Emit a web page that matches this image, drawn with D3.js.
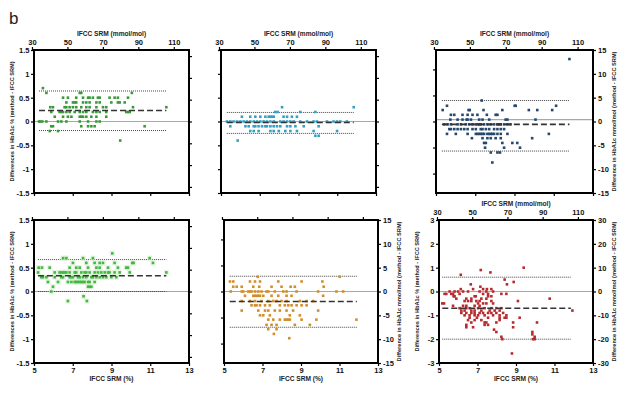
<!DOCTYPE html>
<html><head><meta charset="utf-8">
<script src="https://cdn.jsdelivr.net/npm/d3@7"></script>
<style>
html,body{margin:0;padding:0;background:#fff;}
svg{display:block;font-family:"Liberation Sans",Arial,sans-serif;}
</style></head>
<body><svg id="c" width="627" height="393"></svg>
<script>
// ---------- DATA (x = IFCC SRM %, y = difference; rows: [y, [x...]]) ----------
const pctTicksX = [5, 7, 9, 11, 13];
const mmolTicksX = [30, 50, 70, 90, 110];
const pctTicks15 = [-1.5, -1, -0.5, 0, 0.5, 1, 1.5];
const pctTicks1 = [-1, -0.5, 0, 0.5, 1];
const pctTicks3 = [-3, -2, -1, 0, 1, 2, 3];
const mmolTicks15 = [-15, -10, -5, 0, 5, 10, 15];
const mmolTicks30 = [-30, -20, -10, 0, 10, 20, 30];

const p1Rows = [
  [0.7, [5.46]],
  [0.6, [5.64, 7.36, 7.44, 10.05]],
  [0.5, [6.50, 6.75, 7.18, 7.53, 7.79, 7.87, 8.04, 8.30, 8.39, 8.90, 9.16, 9.33, 9.85]],
  [0.4, [6.67, 7.01, 7.10, 7.18, 7.53, 7.70, 7.87, 8.22, 8.39, 8.99, 9.33, 9.42, 9.68]],
  [0.3, [5.84, 5.98, 6.58, 6.67, 6.84, 7.01, 7.18, 7.44, 7.70, 7.87, 8.22, 8.56, 8.73, 10.11, 11.83]],
  [0.2, [5.89, 6.32, 6.41, 6.50, 6.67, 6.84, 7.10, 7.36, 7.53, 7.70, 8.04, 8.22, 8.39, 8.73, 9.76, 9.85, 9.94]],
  [0.1, [6.07, 6.50, 6.75, 6.93, 7.36, 7.44, 7.53, 7.70, 7.96, 8.22, 8.73]],
  [0.0, [5.26, 5.33, 5.43, 5.64, 6.24, 6.41, 6.67, 7.36, 7.79, 8.22, 8.39]],
  [-0.1, [5.89, 5.98, 7.44, 7.79, 7.96, 8.13, 10.71]],
  [-0.2, [5.81, 6.24]],
  [-0.4, [9.45]]
];
const p1Lines = {upper: 0.64, mean: 0.23, lower: -0.19, zero: 0, from: 5.26, to: 11.83};

const p2Rows = [
  [0.3, [8.15, 11.85]],
  [0.2, [7.80, 7.92, 9.09, 9.87]],
  [0.1, [6.08, 6.51, 6.77, 7.03, 7.29, 7.46, 7.55, 7.63, 7.72, 8.23, 8.41, 8.66, 8.92]],
  [0.0, [5.31, 5.48, 5.65, 5.83, 6.00, 6.17, 6.34, 6.51, 6.69, 6.86, 7.03, 7.20, 7.37, 7.55, 7.72, 8.06, 8.23, 8.41, 8.58, 8.75, 9.09, 9.44, 9.78, 9.95, 10.47, 10.81, 10.99, 11.16, 11.50]],
  [-0.1, [5.48, 6.26, 6.43, 6.69, 6.77, 6.94, 7.12, 7.29, 7.37, 7.55, 7.72, 7.89, 8.06, 8.41, 8.58, 8.84, 9.27, 10.04]],
  [-0.2, [6.51, 6.69, 6.94, 7.55, 7.72, 7.98, 8.32, 8.58, 8.92, 9.78, 10.99]],
  [-0.3, [9.87, 10.04]],
  [-0.4, [5.86]]
];
const p2Lines = {upper: 0.19, mean: -0.02, lower: -0.25, zero: 0, from: 5.3, to: 11.85};

const p3Rows = [
  [13.1, [11.80]],
  [4.4, [7.33]],
  [3.3, [5.56, 9.01, 9.06, 11.12]],
  [2.4, [5.34, 6.66, 6.72, 7.42, 8.38, 9.73, 10.16, 10.92]],
  [1.4, [5.76, 5.93, 6.35, 6.61, 6.86, 7.11, 7.59, 8.04, 8.13]],
  [0.4, [5.73, 6.10, 6.35, 6.56, 6.61, 6.78, 7.20, 7.37, 7.71, 8.55, 8.64, 10.07]],
  [-0.6, [5.42, 5.59, 5.76, 6.10, 6.27, 6.52, 6.69, 6.86, 7.03, 7.11, 7.20, 7.28, 7.45, 7.62, 7.79, 7.96, 8.13, 8.21, 8.30, 8.47, 8.64, 8.80]],
  [-1.6, [5.68, 5.76, 5.93, 6.10, 6.27, 6.44, 6.61, 6.86, 7.03, 7.28, 7.37, 7.54, 7.71, 7.96, 8.13, 8.30, 8.47]],
  [-2.6, [5.56, 6.01, 6.61, 7.03, 7.11, 7.20, 7.28, 7.37, 7.45, 7.62, 7.71, 7.79, 7.87, 7.96, 8.13, 8.30, 8.64, 10.75]],
  [-3.5, [6.83, 7.37, 7.62, 7.79, 8.04, 8.30, 9.90]],
  [-4.5, [7.45, 7.54, 8.38, 8.89, 9.14]],
  [-5.5, [7.50, 8.47, 9.28]],
  [-6.5, [7.79, 8.13, 8.26]],
  [-8.6, [7.87]]
];
const p3Lines = {upper: 4.4, mean: -0.6, lower: -6.2, zero: 0.4, from: 5.3, to: 11.8};

const p4Rows = [
  [0.8, [9.04]],
  [0.7, [6.50, 6.67, 7.53, 8.04, 10.97]],
  [0.6, [7.01, 7.70, 8.13, 8.39, 8.56, 9.16, 10.07, 10.14, 11.14]],
  [0.5, [5.24, 5.41, 5.81, 6.84, 7.18, 7.36, 7.79, 8.22, 8.39, 8.82, 9.33, 9.76, 9.85]],
  [0.4, [5.21, 6.07, 6.32, 6.41, 6.50, 6.58, 6.67, 6.84, 7.10, 7.18, 7.44, 7.61, 7.70, 7.87, 8.13, 8.30, 8.47, 8.65, 8.82, 8.90, 9.16, 9.42, 9.94, 11.83]],
  [0.3, [5.38, 5.46, 5.64, 6.07, 6.41, 6.50, 6.84, 6.93, 7.01, 7.27, 7.36, 7.53, 7.70, 7.96, 8.04, 8.22, 8.39, 8.56, 8.73, 8.99, 9.25]],
  [0.2, [5.72, 6.24, 6.75, 6.93, 7.10, 7.18, 7.27, 7.36, 7.44, 7.53, 7.61, 7.79, 7.87, 8.13]],
  [0.1, [5.98, 7.79, 7.87, 7.96]],
  [0.0, [5.89]],
  [-0.1, [7.56]],
  [-0.2, [6.75, 7.73]]
];
const p4Lines = {upper: 0.67, mean: 0.33, lower: 0.0, zero: 0, from: 5.2, to: 11.83};

const p5Rows = [
  [3.1, [6.75, 11.01]],
  [2.1, [5.31, 5.48, 6.35, 6.61, 6.87, 7.82, 9.03, 10.11]],
  [1.0, [5.48, 5.66, 5.92, 6.52, 6.83, 7.47, 7.99, 8.46, 8.68, 10.18]],
  [0.0, [5.35, 5.92, 6.00, 6.26, 6.35, 6.43, 6.61, 6.78, 6.95, 7.21, 7.30, 7.64, 8.08, 8.25, 8.77, 9.89, 10.84, 11.19]],
  [-0.9, [6.09, 6.52, 6.61, 6.69, 6.78, 6.87, 7.04, 7.47, 7.82, 8.25, 8.51, 10.15]],
  [-2.0, [5.92, 6.35, 6.61, 6.95, 7.30, 7.56, 7.73, 7.99, 8.25, 8.94, 9.29, 9.63]],
  [-2.9, [6.43, 6.61, 6.69, 6.87, 7.13, 7.38, 7.90, 8.16, 8.34, 8.51, 8.77, 9.03, 9.29]],
  [-4.0, [5.92, 6.78, 7.13, 7.30, 7.64, 7.90, 8.25, 8.59, 9.89]],
  [-5.0, [6.87, 7.04, 7.38, 8.42, 8.94]],
  [-5.9, [7.30, 7.56, 7.90, 8.16, 8.25, 8.34, 8.42, 9.03, 9.80, 11.88]],
  [-7.0, [7.21, 7.47, 7.73, 8.68, 9.46]],
  [-7.9, [7.30, 7.73]],
  [-8.9, [7.59]],
  [-9.8, [8.39]]
];
const p5Lines = {upper: 3.2, mean: -2.1, lower: -7.5, zero: 0, from: 5.3, to: 11.9};

const p6Rows = [
  [1.0, [9.40]], [0.9, [7.17]], [0.8, [7.67]], [0.7, [6.13]], [0.5, [8.41]], [0.4, [8.88]],
  [0.3, [6.65, 8.53]], [0.2, [7.15]],
  [0.1, [6.13, 6.77, 7.29, 7.49, 7.72]],
  [0.0, [5.55, 5.81, 5.99, 6.25, 6.51, 7.11, 7.46, 7.81]],
  [-0.1, [5.29, 5.38, 5.64, 5.73, 6.07, 7.29, 7.55, 8.24, 8.50]],
  [-0.2, [5.76, 5.81, 6.85, 6.91, 7.55, 7.72]],
  [-0.3, [5.90, 6.42, 6.68, 7.20, 7.46, 10.75]],
  [-0.4, [6.33, 6.51, 6.68, 6.94, 7.11, 7.72, 9.10]],
  [-0.5, [5.17, 5.26, 7.03, 7.29, 7.46, 7.81]],
  [-0.6, [5.73, 6.25, 6.42, 6.85, 7.11]],
  [-0.7, [6.07, 6.42, 6.59, 7.03, 7.37, 7.72, 7.98, 8.24]],
  [-0.8, [6.16, 6.33, 6.68, 6.85, 7.20, 7.63, 7.89, 8.15, 11.93]],
  [-0.9, [6.16, 6.42, 6.68, 6.85, 7.11, 7.29, 7.55, 7.72, 7.98, 8.33]],
  [-1.0, [6.33, 6.59, 6.85, 7.03, 7.37, 7.81, 8.15, 8.50]],
  [-1.1, [6.59, 6.97, 7.55, 8.15, 8.41, 8.50, 9.19]],
  [-1.2, [6.51, 6.85, 7.20, 8.15]],
  [-1.3, [6.68, 7.37, 7.46, 7.98, 8.85, 10.09]],
  [-1.4, [6.42, 7.37, 7.55]],
  [-1.5, [6.42, 6.77, 8.85]],
  [-1.6, [7.86]], [-1.7, [7.98, 9.85]], [-1.8, [9.85]], [-1.9, [8.24, 9.97]],
  [-2.0, [8.29, 9.88, 9.97]],
  [-2.6, [8.79]]
];
const p6Lines = {upper: 0.6, mean: -0.7, lower: -2.0, zero: 0, from: 5.17, to: 11.85};

const topTitle = "IFCC SRM (mmol/mol)";
const bottomTitle = "IFCC SRM (%)";
const leftTitle = "Differences in HbA1c % (method - IFCC SRM)";
const rightTitle = "Difference in HbA1c mmol/mol (method - IFCC SRM)";

// ---------- LAYOUT ----------
const svg = d3.select("#c");
const toMmol = p => (p - 2.15) * 10.929;

const panels = [
  {rows: p1Rows, lines: p1Lines, color: "#3a9a3a", x: 34, y: 50, w: 155, h: 143, lDom: [-1.5, 1.5], rDom: [-16.4, 16.4], unit: "L",
   lT: pctTicks15, rT: mmolTicks15, lab: {top: 1, bottom: 0, left: 1, right: 0}, tit: {top: 1, bottom: 0, left: 1, right: 0}},
  {rows: p2Rows, lines: p2Lines, color: "#35a0c6", x: 221, y: 50, w: 155, h: 143, lDom: [-1.5, 1.5], rDom: [-16.4, 16.4], unit: "L",
   lT: pctTicks15, rT: mmolTicks15, lab: {top: 1, bottom: 0, left: 0, right: 0}, tit: {top: 1, bottom: 0, left: 0, right: 0}},
  {rows: p3Rows, lines: p3Lines, color: "#25486e", x: 436, y: 50, w: 157, h: 143, lDom: [-1.373, 1.373], rDom: [-15, 15], unit: "R",
   lT: pctTicks1, rT: mmolTicks15, lab: {top: 1, bottom: 0, left: 0, right: 1}, tit: {top: 1, bottom: 0, left: 0, right: 1}},
  {rows: p4Rows, lines: p4Lines, color: "#43b843", x: 34, y: 220, w: 155, h: 143, lDom: [-1.5, 1.5], rDom: [-16.4, 16.4], unit: "L",
   lT: pctTicks15, rT: mmolTicks15, lab: {top: 0, bottom: 1, left: 1, right: 0}, tit: {top: 0, bottom: 1, left: 1, right: 0}, halo: "#d6ecd0"},
  {rows: p5Rows, lines: p5Lines, color: "#d38e2c", x: 224, y: 220, w: 154, h: 143, lDom: [-1.373, 1.373], rDom: [-15, 15], unit: "R",
   lT: pctTicks1, rT: mmolTicks15, lab: {top: 0, bottom: 1, left: 0, right: 1}, tit: {top: 0, bottom: 1, left: 0, right: 1}},
  {rows: p6Rows, lines: p6Lines, color: "#b92a2e", x: 439, y: 220, w: 154, h: 143, lDom: [-3, 3], rDom: [-30, 30], unit: "L",
   lT: pctTicks3, rT: mmolTicks30, lab: {top: 1, bottom: 1, left: 1, right: 1}, tit: {top: 1, bottom: 1, left: 1, right: 1}}
];

svg.append("text").attr("x", 9).attr("y", 24).attr("font-size", 17).attr("fill", "#222").text("b");

const fmt = d => String(d);

panels.forEach(p => {
  const g = svg.append("g");
  const xs = d3.scaleLinear().domain([5, 13]).range([p.x, p.x + p.w]);
  const xm = d3.scaleLinear().domain([toMmol(5), toMmol(13)]).range([p.x, p.x + p.w]);
  const yl = d3.scaleLinear().domain(p.lDom).range([p.y + p.h, p.y]);
  const yr = d3.scaleLinear().domain(p.rDom).range([p.y + p.h, p.y]);
  const yv = p.unit === "L" ? yl : yr;

  // reference lines
  const L = p.lines;
  g.append("line").attr("x1", p.x).attr("x2", p.x + p.w).attr("y1", yv(L.zero)).attr("y2", yv(L.zero))
    .attr("stroke", "#a8a8a8").attr("stroke-width", 1.1);
  [L.upper, L.lower].forEach(v => {
    g.append("line").attr("x1", xs(L.from)).attr("x2", xs(L.to)).attr("y1", yv(v)).attr("y2", yv(v))
      .attr("stroke", "#444").attr("stroke-width", 1).attr("stroke-dasharray", "1,1");
  });

  // points
  const pts = p.rows.flatMap(([yy, xsArr]) => xsArr.map(xx => [xx, yy]));
  if (p.halo) {
    g.selectAll(null).data(pts).enter().append("rect")
      .attr("x", d => xs(d[0]) - 2.6).attr("y", d => yv(d[1]) - 2.6).attr("width", 5.2).attr("height", 5.2)
      .attr("fill", p.halo).attr("opacity", 0.6);
  }
  g.selectAll(null).data(pts).enter().append("rect")
    .attr("x", d => xs(d[0]) - 1.3).attr("y", d => yv(d[1]) - 1.3).attr("width", 2.6).attr("height", 2.6)
    .attr("fill", p.color);

  // mean line
  g.append("line").attr("x1", xs(L.from)).attr("x2", xs(L.to)).attr("y1", yv(L.mean)).attr("y2", yv(L.mean))
    .attr("stroke", "#333").attr("stroke-width", 1.6).attr("stroke-dasharray", "6,3");

  // axes
  const styleAxis = (sel, show) => {
    sel.select(".domain").remove();
    sel.selectAll(".tick line").attr("stroke", "#000").attr("stroke-width", 1.2);
    sel.selectAll(".tick text").attr("font-size", 7.5).attr("font-weight", "bold").attr("fill", "#111");
    if (!show) sel.selectAll(".tick text").remove();
  };
  const top = g.append("g").attr("transform", `translate(0,${p.y})`)
    .call(d3.axisTop(xm).tickValues(mmolTicksX).tickFormat(fmt).tickSize(3).tickPadding(2));
  styleAxis(top, p.lab.top);
  const bot = g.append("g").attr("transform", `translate(0,${p.y + p.h})`)
    .call(d3.axisBottom(xs).tickValues(pctTicksX).tickFormat(fmt).tickSize(3).tickPadding(2));
  styleAxis(bot, p.lab.bottom);
  const lft = g.append("g").attr("transform", `translate(${p.x},0)`)
    .call(d3.axisLeft(yl).tickValues(p.lT).tickFormat(fmt).tickSize(3).tickPadding(1.5));
  styleAxis(lft, p.lab.left);
  const rgt = g.append("g").attr("transform", `translate(${p.x + p.w},0)`)
    .call(d3.axisRight(yr).tickValues(p.rT).tickFormat(fmt).tickSize(3).tickPadding(2));
  styleAxis(rgt, p.lab.right);

  // frame
  g.append("rect").attr("x", p.x).attr("y", p.y).attr("width", p.w).attr("height", p.h)
    .attr("fill", "none").attr("stroke", "#000").attr("stroke-width", 2);

  // titles
  const cx = p.x + p.w / 2, cy = p.y + p.h / 2;
  if (p.tit.top) g.append("text").attr("x", cx).attr("y", p.y - 14.5).attr("text-anchor", "middle")
    .attr("font-size", 6.6).attr("font-weight", "bold").attr("fill", "#222").text(topTitle);
  if (p.tit.bottom) g.append("text").attr("x", cx).attr("y", p.y + p.h + 18).attr("text-anchor", "middle")
    .attr("font-size", 6.6).attr("font-weight", "bold").attr("fill", "#222").text(bottomTitle);
  if (p.tit.left) g.append("text").attr("transform", `translate(${p.x - 20},${cy}) rotate(-90)`).attr("text-anchor", "middle")
    .attr("font-size", 6).attr("font-weight", "bold").attr("fill", "#222")
    .attr("textLength", 120).attr("lengthAdjust", "spacingAndGlyphs").text(leftTitle);
  if (p.tit.right) g.append("text").attr("transform", `translate(${p.x + p.w + 23},${cy}) rotate(-90)`).attr("text-anchor", "middle")
    .attr("font-size", 6).attr("font-weight", "bold").attr("fill", "#222")
    .attr("textLength", 140).attr("lengthAdjust", "spacingAndGlyphs").text(rightTitle);
});
</script></body></html>
